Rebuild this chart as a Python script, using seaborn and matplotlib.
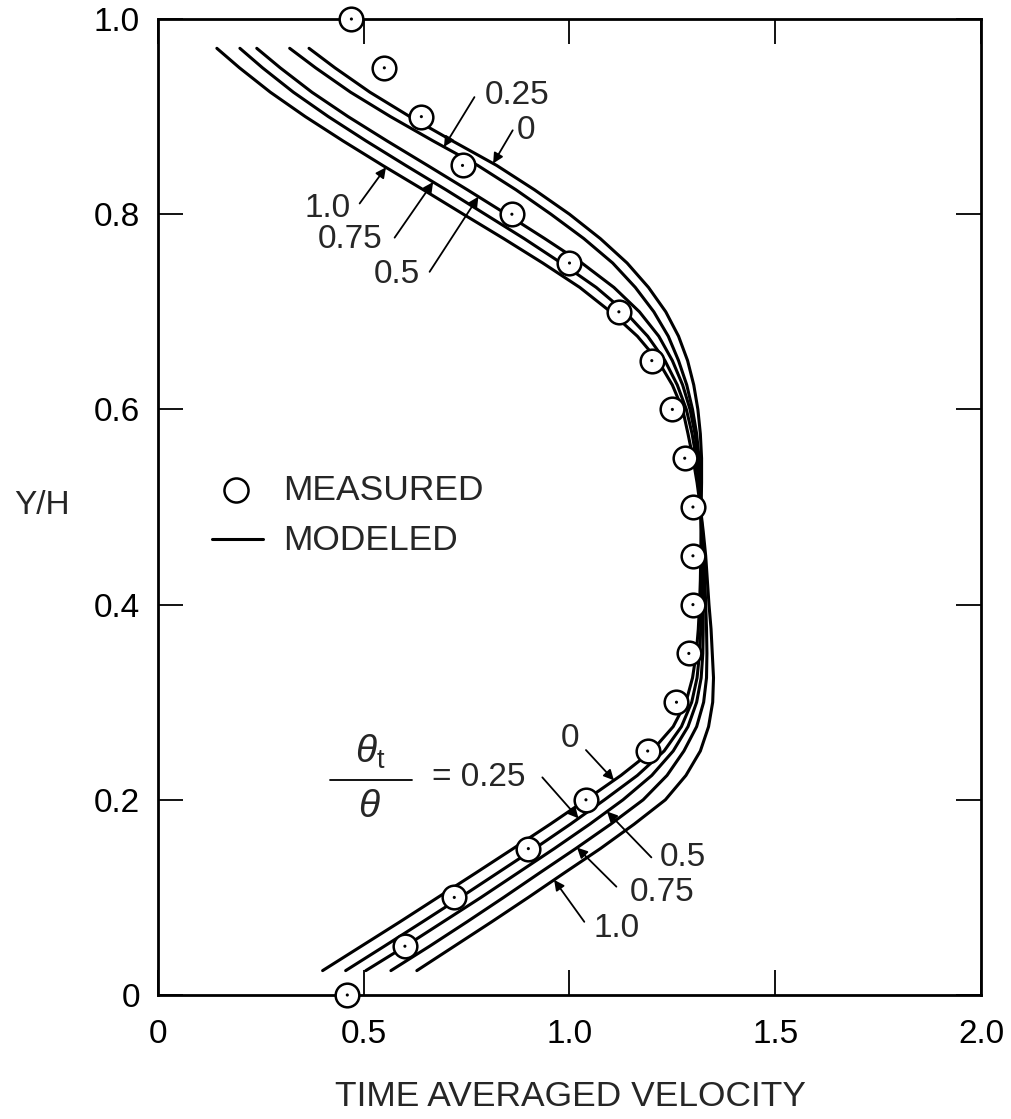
import numpy as np
import pandas as pd
import matplotlib
matplotlib.use("Agg")
import matplotlib.pyplot as plt
import seaborn as sns

# ---- measured profile (circles) ----
meas_y = [0.00, 0.05, 0.10, 0.15, 0.20, 0.25, 0.30, 0.35, 0.40, 0.45, 0.50,
          0.55, 0.60, 0.65, 0.70, 0.75, 0.80, 0.85, 0.90, 0.95, 1.00]
meas_x = [0.46, 0.60, 0.72, 0.90, 1.04, 1.19, 1.26, 1.29, 1.30, 1.30, 1.30,
          1.28, 1.25, 1.20, 1.12, 1.00, 0.86, 0.74, 0.64, 0.55, 0.47]

# ---- modeled profiles, one per theta_t/theta ----
model_y = [0.025, 0.05, 0.075, 0.10, 0.125, 0.15, 0.175, 0.20, 0.225, 0.25,
           0.275, 0.30, 0.325, 0.35, 0.375, 0.40, 0.425, 0.45, 0.475, 0.50,
           0.525, 0.55, 0.575, 0.60, 0.625, 0.65, 0.675, 0.70, 0.725, 0.75,
           0.775, 0.80, 0.825, 0.85, 0.875, 0.90, 0.925, 0.95, 0.97]

model_x_0 = [0.400, 0.494, 0.588, 0.680, 0.772, 0.863, 0.953, 1.040, 1.125, 1.200,
             1.252, 1.283, 1.299, 1.308, 1.313, 1.316, 1.318, 1.319, 1.320, 1.320,
             1.321, 1.321, 1.318, 1.312, 1.302, 1.287, 1.265, 1.234, 1.192, 1.140,
             1.075, 1.000, 0.915, 0.823, 0.716, 0.612, 0.515, 0.430, 0.367]
model_x_025 = [0.456, 0.550, 0.643, 0.735, 0.825, 0.915, 1.002, 1.085, 1.165, 1.230,
               1.272, 1.297, 1.310, 1.316, 1.319, 1.320, 1.321, 1.321, 1.320, 1.319,
               1.318, 1.315, 1.309, 1.299, 1.285, 1.265, 1.240, 1.205, 1.160, 1.105,
               1.035, 0.955, 0.870, 0.777, 0.669, 0.565, 0.468, 0.383, 0.320]
model_x_05 = [0.505, 0.601, 0.693, 0.785, 0.874, 0.963, 1.049, 1.130, 1.200, 1.252,
              1.288, 1.309, 1.320, 1.324, 1.325, 1.325, 1.325, 1.324, 1.321, 1.319,
              1.317, 1.312, 1.305, 1.293, 1.275, 1.250, 1.217, 1.170, 1.108, 1.030,
              0.940, 0.847, 0.752, 0.655, 0.557, 0.462, 0.374, 0.297, 0.240]
model_x_075 = [0.566, 0.660, 0.751, 0.840, 0.927, 1.015, 1.100, 1.179, 1.237, 1.278,
               1.309, 1.326, 1.333, 1.334, 1.333, 1.331, 1.329, 1.327, 1.323, 1.318,
               1.314, 1.308, 1.298, 1.284, 1.262, 1.232, 1.190, 1.135, 1.065, 0.980,
               0.890, 0.795, 0.700, 0.602, 0.506, 0.414, 0.329, 0.254, 0.199]
model_x_10 = [0.629, 0.720, 0.811, 0.900, 0.987, 1.075, 1.157, 1.233, 1.283, 1.318,
              1.338, 1.348, 1.350, 1.347, 1.344, 1.339, 1.335, 1.331, 1.325, 1.318,
              1.310, 1.300, 1.288, 1.275, 1.250, 1.215, 1.165, 1.100, 1.025, 0.935,
              0.840, 0.742, 0.645, 0.546, 0.450, 0.358, 0.273, 0.198, 0.143]

ratios = ["0", "0.25", "0.5", "0.75", "1.0"]
model_x = {"0": model_x_0, "0.25": model_x_025, "0.5": model_x_05,
           "0.75": model_x_075, "1.0": model_x_10}

x_ticks = [0, 0.5, 1.0, 1.5, 2.0]
x_tick_labels = ["0", "0.5", "1.0", "1.5", "2.0"]
y_ticks = [0, 0.2, 0.4, 0.6, 0.8, 1.0]
y_tick_labels = ["0", "0.2", "0.4", "0.6", "0.8", "1.0"]

# ---- style ----
sns.set_theme(style="white")
plt.rcParams["font.family"] = ["Liberation Sans", "DejaVu Sans"]
plt.rcParams["mathtext.fontset"] = "custom"
plt.rcParams["mathtext.rm"] = "Liberation Sans"
plt.rcParams["mathtext.it"] = "Liberation Sans:italic"

fig = plt.figure(figsize=(10.11, 11.19), dpi=100)
ax = fig.add_axes([0.1563, 0.1108, 0.8140, 0.8722])

# modeled curves
frames = []
for r in ratios:
    frames.append(pd.DataFrame({"velocity": model_x[r], "yh": model_y, "ratio": r}))
model_df = pd.concat(frames, ignore_index=True)
sns.lineplot(data=model_df, x="velocity", y="yh", hue="ratio", palette=["black"] * 5,
             estimator=None, sort=False, legend=False, lw=2.2, ax=ax, zorder=2)

# measured points: open circles with a centre dot
sns.scatterplot(x=meas_x, y=meas_y, s=290, facecolor="white", edgecolor="black",
                linewidth=1.8, ax=ax, zorder=6, clip_on=False)
sns.scatterplot(x=meas_x, y=meas_y, s=5, color="black", edgecolor="none",
                ax=ax, zorder=7, clip_on=False)

ax.set_xlim(0, 2.0)
ax.set_ylim(0, 1.0)
ax.set_xticks(x_ticks)
ax.set_xticklabels(x_tick_labels)
ax.set_yticks(y_ticks)
ax.set_yticklabels(y_tick_labels)
ax.set_xlabel("")
ax.set_ylabel("")
ax.tick_params(direction="in", length=18, width=1.3, bottom=True, left=True,
               top=True, right=True, labelsize=24, color="black", labelcolor="black")
ax.tick_params(axis="x", pad=17)
ax.tick_params(axis="y", pad=13)
for sp in ax.spines.values():
    sp.set_visible(True)
    sp.set_color("black")
    sp.set_linewidth(2.0)

# legend drawn inside the frame
ax.scatter([0.19], [0.517], s=300, facecolor="white", edgecolor="black", linewidth=1.8, zorder=6)
ax.plot([0.131, 0.255], [0.467, 0.467], color="black", lw=2.2)
ax.text(0.303, 0.517, "MEASURED", fontsize=25.5, va="center", ha="left")
ax.text(0.303, 0.466, "MODELED", fontsize=25.5, va="center", ha="left")

# axis titles
fig.text(0.0415, 0.548, "Y/H", fontsize=24, ha="center", va="center")
fig.text(0.564, 0.020, "TIME AVERAGED VELOCITY", fontsize=25.5, ha="center", va="center")


def on_curve(r, yv):
    return float(np.interp(yv, model_y, model_x[r]))


arrow_kw = dict(arrowstyle="-|>", color="black", lw=1.3, mutation_scale=15,
                shrinkA=0, shrinkB=0)

# labels for the upper branch
upper = [  # ratio, label pos, arrow start, tip height
    ("0.25", (0.872, 0.922), (0.769, 0.920), 0.869),
    ("0", (0.895, 0.886), (0.862, 0.886), 0.852),
    ("1.0", (0.412, 0.806), (0.490, 0.811), 0.848),
    ("0.75", (0.466, 0.774), (0.575, 0.776), 0.833),
    ("0.5", (0.580, 0.738), (0.660, 0.741), 0.818),
]
for r, lab, start, ty in upper:
    ax.text(lab[0], lab[1], r, fontsize=24, ha="center", va="center")
    ax.annotate("", xy=(on_curve(r, ty), ty), xytext=start, arrowprops=arrow_kw)

# labels for the lower branch
lower = [
    ("0", (1.002, 0.263), (1.040, 0.251), 0.220),
    ("0.5", (1.275, 0.141), (1.199, 0.141), 0.188),
    ("0.75", (1.226, 0.105), (1.114, 0.111), 0.151),
    ("1.0", (1.115, 0.068), (1.036, 0.075), 0.118),
]
for r, lab, start, ty in lower:
    ax.text(lab[0], lab[1], r, fontsize=24, ha="center", va="center")
    ax.annotate("", xy=(on_curve(r, ty), ty), xytext=start, arrowprops=arrow_kw)

# theta_t / theta = 0.25
ax.text(0.515, 0.249, r"$\theta_{\mathrm{t}}$", fontsize=28, ha="center", va="center")
ax.plot([0.417, 0.617], [0.220, 0.220], color="black", lw=1.3)
ax.text(0.513, 0.193, r"$\theta$", fontsize=28, ha="center", va="center")
ax.text(0.665, 0.223, "= 0.25", fontsize=24, ha="left", va="center")
ax.annotate("", xy=(on_curve("0.25", 0.181), 0.181), xytext=(0.934, 0.223),
            arrowprops=arrow_kw)

fig.savefig("out.png", dpi=100, facecolor="white")
